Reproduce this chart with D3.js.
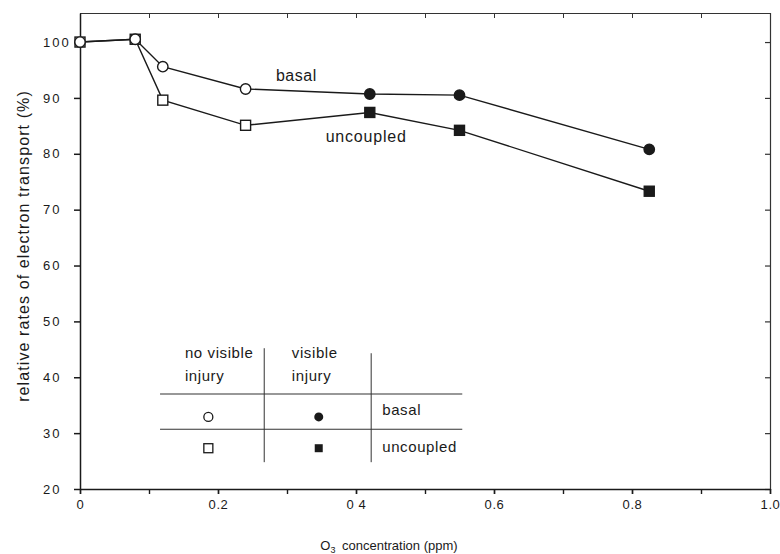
<!DOCTYPE html>
<html>
<head>
<meta charset="utf-8">
<script src="https://cdn.jsdelivr.net/npm/d3@7"></script>
<style>
  body { margin: 0; background: #fff; }
  svg { display: block; font-family: "Liberation Sans", Arial, sans-serif; }
</style>
</head>
<body>
<div id="wrapper"></div>
<script>
// Data
const ozone = [0, 0.08, 0.12, 0.24, 0.42, 0.55, 0.825];
const basal = [100, 100.5, 95.6, 91.6, 90.7, 90.5, 80.8];
const uncoupled = [100, 100.5, 89.6, 85.1, 87.4, 84.2, 73.3];
const visibleInjury = [false, false, false, false, true, true, true];

const xTicks = [0, 0.2, 0.4, 0.6, 0.8, 1.0];
const xTickLabels = ["0", "0.2", "0 4", "0.6", "0.8", "1.0"];
const xMinorTicks = d3.range(0, 1.0001, 0.1);
const yTicks = [20, 30, 40, 50, 60, 70, 80, 90, 100];

function drawChart() {
  const width = 780;
  const dimensions = {
    width: width,
    height: 554,
    margin: { top: 13, right: 10, bottom: 65, left: 80 },
  };
  dimensions.boundedWidth = dimensions.width - dimensions.margin.left - dimensions.margin.right;
  dimensions.boundedHeight = dimensions.height - dimensions.margin.top - dimensions.margin.bottom;

  const svg = d3.select("#wrapper").append("svg")
    .attr("width", dimensions.width)
    .attr("height", dimensions.height);

  const bounds = svg.append("g")
    .attr("transform", `translate(${dimensions.margin.left},${dimensions.margin.top})`);

  const xScale = d3.scaleLinear()
    .domain([0, 1])
    .range([0, dimensions.boundedWidth]);
  const yScale = d3.scaleLinear()
    .domain([20, 105.2])
    .range([dimensions.boundedHeight, 0]);

  const ink = "#1a1a1a";

  // frame: top and right edges with inward ticks
  bounds.append("g")
    .call(d3.axisTop(xScale).tickValues(xMinorTicks).tickSize(-5).tickFormat(""))
    .call(g => g.selectAll("path,line").attr("stroke", "#333").attr("stroke-width", 1));
  bounds.append("g")
    .attr("transform", `translate(${dimensions.boundedWidth},0)`)
    .call(d3.axisRight(yScale).tickValues(yTicks).tickSize(-5).tickFormat(""))
    .call(g => g.selectAll("path,line").attr("stroke", "#333").attr("stroke-width", 1.2));

  // bottom axis: minor ticks every 0.1, labels every 0.2
  bounds.append("g")
    .attr("transform", `translate(0,${dimensions.boundedHeight})`)
    .call(d3.axisBottom(xScale).tickValues(xMinorTicks).tickSize(5).tickSizeOuter(0).tickFormat(""))
    .call(g => g.selectAll("path,line").attr("stroke", ink).attr("stroke-width", 1.4));
  bounds.append("g")
    .attr("transform", `translate(0,${dimensions.boundedHeight})`)
    .call(d3.axisBottom(xScale).tickValues(xTicks).tickSize(5).tickPadding(6)
      .tickFormat((d, i) => xTickLabels[i]))
    .call(g => g.select(".domain").remove())
    .call(g => g.selectAll("line").attr("stroke", ink).attr("stroke-width", 1.4))
    .call(g => g.selectAll("text").attr("fill", ink).attr("font-size", 13)
      .style("letter-spacing", "0.6px").style("font-family", "inherit"));

  // left axis: labels sit left-aligned in a column
  bounds.append("g")
    .call(d3.axisLeft(yScale).tickValues(yTicks).tickSize(6).tickSizeOuter(0).tickPadding(6))
    .call(g => g.selectAll("path,line").attr("stroke", ink).attr("stroke-width", 1.5))
    .call(g => g.selectAll("text")
      .attr("x", -37)
      .attr("text-anchor", "start")
      .attr("fill", ink).attr("font-size", 13)
      .style("letter-spacing", "2px").style("font-family", "inherit"));

  // axis titles
  svg.append("text")
    .attr("transform", `translate(29,246) rotate(-90)`)
    .attr("text-anchor", "middle")
    .attr("font-size", 16)
    .attr("fill", ink)
    .style("letter-spacing", "1.1px")
    .text("relative rates of electron transport (%)");

  const xTitle = svg.append("text")
    .attr("x", 389)
    .attr("y", 550)
    .attr("text-anchor", "middle")
    .attr("font-size", 13)
    .attr("fill", ink);
  xTitle.append("tspan").text("O");
  xTitle.append("tspan").attr("font-size", 9).attr("dy", 3).text("3");
  xTitle.append("tspan").attr("dy", -3).text("\u2002concentration (ppm)");

  // series lines
  const points = ozone.map((x, i) => ({ x, basal: basal[i], uncoupled: uncoupled[i], visible: visibleInjury[i] }));
  const lineFor = key => d3.line().x(d => xScale(d.x)).y(d => yScale(d[key]));

  ["uncoupled", "basal"].forEach(key => {
    bounds.append("path")
      .datum(points)
      .attr("d", lineFor(key))
      .attr("fill", "none")
      .attr("stroke", ink)
      .attr("stroke-width", 1.4);
  });

  const sq = 10;
  bounds.selectAll(".sq").data(points).join("rect")
    .attr("x", d => xScale(d.x) - sq / 2)
    .attr("y", d => yScale(d.uncoupled) - sq / 2)
    .attr("width", sq).attr("height", sq)
    .attr("fill", d => d.visible ? ink : "#fff")
    .attr("stroke", ink).attr("stroke-width", 1.4);

  bounds.selectAll(".ci").data(points).join("circle")
    .attr("cx", d => xScale(d.x))
    .attr("cy", d => yScale(d.basal))
    .attr("r", 5.2)
    .attr("fill", d => d.visible ? ink : "#fff")
    .attr("stroke", ink).attr("stroke-width", 1.4);

  // series labels
  bounds.append("text")
    .attr("x", xScale(0.284)).attr("y", yScale(93.0))
    .attr("font-size", 16).attr("fill", ink)
    .style("letter-spacing", "0.5px")
    .text("basal");
  bounds.append("text")
    .attr("x", xScale(0.356)).attr("y", yScale(82.1))
    .attr("font-size", 16).attr("fill", ink)
    .style("letter-spacing", "0.8px")
    .text("uncoupled");

  // legend table (positioned in data coordinates)
  const legend = bounds.append("g");
  const lx0 = 0.116, lx1 = 0.554;
  const colA = 0.267, colB = 0.422;
  legend.selectAll(".hl").data([37.0, 30.7]).join("line")
    .attr("x1", xScale(lx0)).attr("x2", xScale(lx1))
    .attr("y1", d => yScale(d)).attr("y2", d => yScale(d))
    .attr("stroke", "#333").attr("stroke-width", 1.1);
  legend.append("line")
    .attr("x1", xScale(colA)).attr("x2", xScale(colA))
    .attr("y1", yScale(45.2)).attr("y2", yScale(24.8))
    .attr("stroke", "#333").attr("stroke-width", 1);
  legend.append("line")
    .attr("x1", xScale(colB)).attr("x2", xScale(colB))
    .attr("y1", yScale(44.3)).attr("y2", yScale(24.8))
    .attr("stroke", "#333").attr("stroke-width", 1);

  const legendText = [
    { x: 0.152, y: 43.4, t: "no visible" },
    { x: 0.152, y: 39.3, t: "injury" },
    { x: 0.307, y: 43.4, t: "visible" },
    { x: 0.307, y: 39.3, t: "injury" },
    { x: 0.438, y: 33.2, t: "basal" },
    { x: 0.438, y: 26.6, t: "uncoupled" },
  ];
  legend.selectAll(".lt").data(legendText).join("text")
    .attr("x", d => xScale(d.x)).attr("y", d => yScale(d.y))
    .attr("font-size", 15).attr("fill", ink)
    .style("letter-spacing", "0.6px")
    .text(d => d.t);

  legend.append("circle")
    .attr("cx", xScale(0.186)).attr("cy", yScale(32.9)).attr("r", 4.5)
    .attr("fill", "#fff").attr("stroke", ink).attr("stroke-width", 1.3);
  legend.append("circle")
    .attr("cx", xScale(0.346)).attr("cy", yScale(32.9)).attr("r", 4.5)
    .attr("fill", ink);
  legend.append("rect")
    .attr("x", xScale(0.186) - 4.5).attr("y", yScale(27.3) - 4.5)
    .attr("width", 9).attr("height", 9)
    .attr("fill", "#fff").attr("stroke", ink).attr("stroke-width", 1.3);
  legend.append("rect")
    .attr("x", xScale(0.346) - 4).attr("y", yScale(27.3) - 4)
    .attr("width", 8).attr("height", 8)
    .attr("fill", ink);
}
drawChart();
</script>
</body>
</html>
